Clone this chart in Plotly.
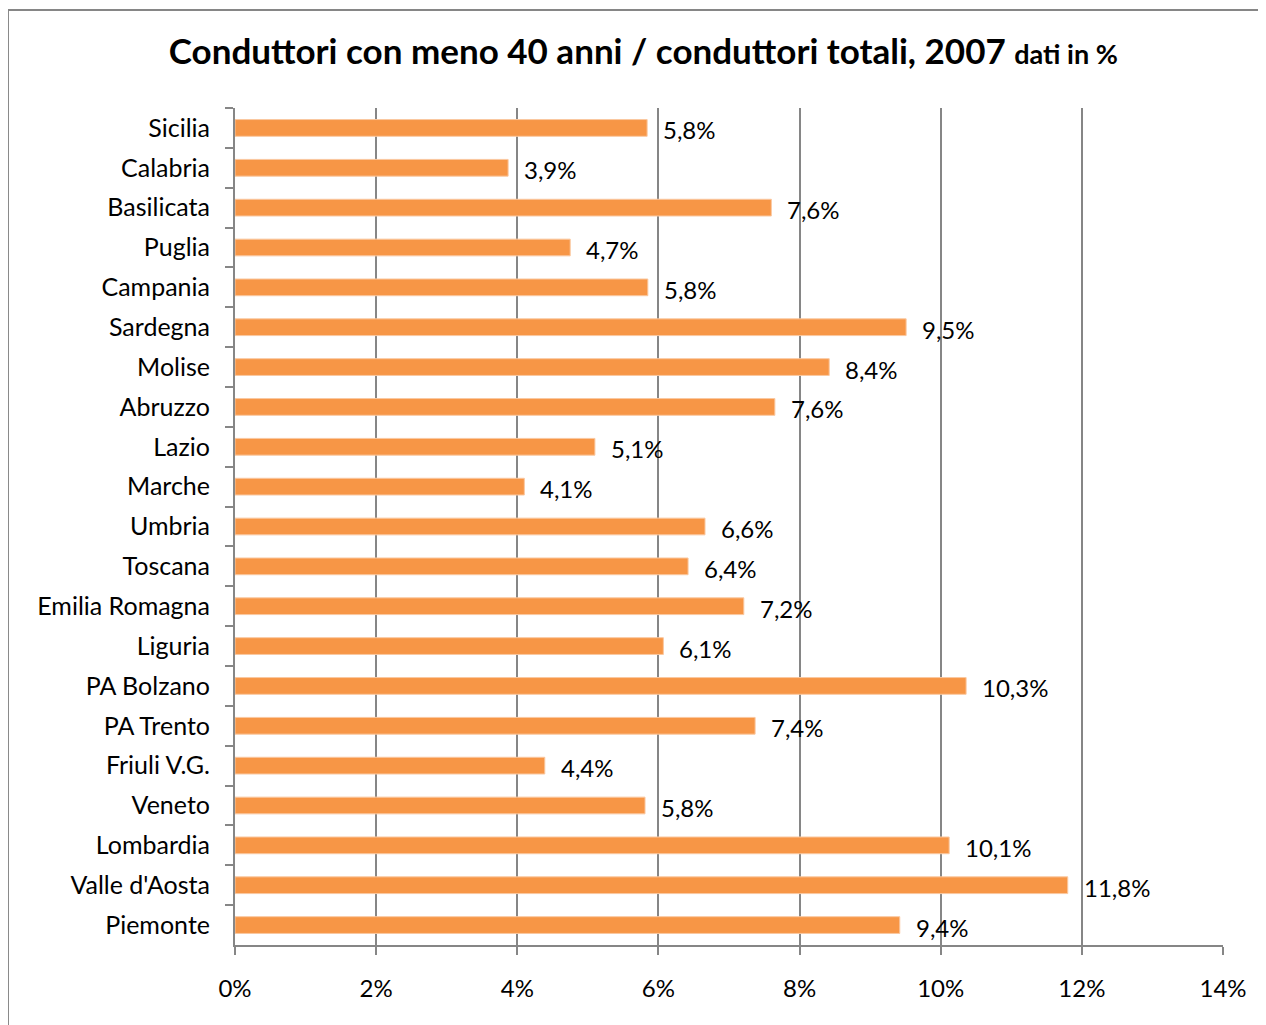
import plotly.graph_objects as go

regions = ["Sicilia", "Calabria", "Basilicata", "Puglia", "Campania", "Sardegna",
           "Molise", "Abruzzo", "Lazio", "Marche", "Umbria", "Toscana",
           "Emilia Romagna", "Liguria", "PA Bolzano", "PA Trento", "Friuli V.G.",
           "Veneto", "Lombardia", "Valle d'Aosta", "Piemonte"]
share = [5.84, 3.87, 7.60, 4.75, 5.85, 9.51, 8.42, 7.65, 5.10, 4.10, 6.66, 6.42,
         7.21, 6.07, 10.36, 7.37, 4.39, 5.81, 10.12, 11.80, 9.42]
labels = ["5,8%", "3,9%", "7,6%", "4,7%", "5,8%", "9,5%", "8,4%", "7,6%", "5,1%",
          "4,1%", "6,6%", "6,4%", "7,2%", "6,1%", "10,3%", "7,4%", "4,4%", "5,8%",
          "10,1%", "11,8%", "9,4%"]
x_ticks = [0, 2, 4, 6, 8, 10, 12, 14]
x_ticktext = ["0%", "2%", "4%", "6%", "8%", "10%", "12%", "14%"]

FONT = "Lato, 'Open Sans', sans-serif"
GREY = "#868686"

fig = go.Figure(go.Bar(
    y=regions, x=share, orientation="h",
    marker=dict(color="#F79646", line=dict(color="#FAC8A0", width=1)),
    width=0.42, hoverinfo="skip",
))

for r, v, t in zip(regions, share, labels):
    fig.add_annotation(x=v, y=r, text=t, showarrow=False, xanchor="left",
                       xshift=14, yshift=-2, font=dict(size=24, color="black", family=FONT))

# outer chart border
fig.add_shape(type="rect", xref="paper", yref="paper",
              x0=-0.2298, x1=1.2, y0=-0.3, y1=1.117,
              line=dict(color=GREY, width=2), layer="below")

fig.update_xaxes(range=[0, 14], tickvals=x_ticks, ticktext=x_ticktext,
                 showgrid=True, gridcolor=GREY, gridwidth=2,
                 showline=True, linecolor=GREY, linewidth=2,
                 ticks="outside", ticklen=8, tickwidth=2, tickcolor=GREY,
                 ticklabelstandoff=13, zeroline=False,
                 tickfont=dict(size=24, color="black", family=FONT))
fig.update_yaxes(autorange="reversed", showgrid=False,
                 showline=True, linecolor=GREY, linewidth=2,
                 ticks="outside", tickson="boundaries", ticklen=8, tickwidth=2,
                 tickcolor=GREY, ticklabelstandoff=18,
                 tickfont=dict(size=25, color="black", family=FONT))

# page body adds an 8px margin, so the figure is sized 8px smaller
fig.update_layout(
    width=1258, height=1017,
    margin=dict(l=227, r=43, t=100, b=80),
    plot_bgcolor="white", paper_bgcolor="white",
    showlegend=False,
    title=dict(text="<b>Conduttori con meno 40 anni / conduttori totali, 2007 "
                    "<span style='font-size:27px'>dati in %</span></b>",
               x=0.505, xanchor="center", y=0.9565, yanchor="middle",
               font=dict(size=35, color="black", family=FONT)),
)

fig.write_html("out.html")
